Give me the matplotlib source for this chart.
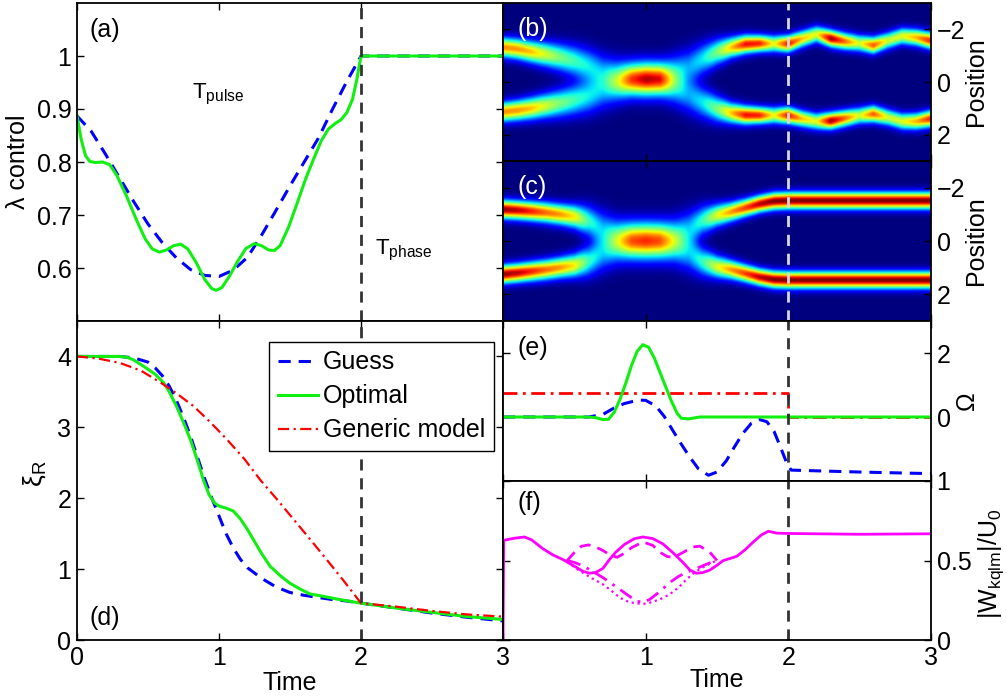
import numpy as np
import matplotlib
matplotlib.use('Agg')
import matplotlib.pyplot as plt

plt.rcParams['font.family'] = ['Liberation Sans', 'DejaVu Sans']
plt.rcParams['mathtext.fontset'] = 'custom'
plt.rcParams['mathtext.rm'] = 'Liberation Sans'
plt.rcParams['mathtext.it'] = 'Liberation Sans:italic'
plt.rcParams['mathtext.default'] = 'regular'
plt.rcParams['font.size'] = 18
FS = 18

# ---------------- panel (a): lambda control ----------------
a_opt_t = [0.00, 0.03, 0.06, 0.09, 0.13, 0.18, 0.23, 0.28, 0.35, 0.42, 0.48, 0.53, 0.58,
           0.63, 0.68, 0.73, 0.78, 0.84, 0.90, 0.95, 0.98, 1.02, 1.07, 1.13, 1.19, 1.25,
           1.30, 1.35, 1.39, 1.43, 1.49, 1.55, 1.61, 1.67, 1.72, 1.77, 1.82, 1.86, 1.90,
           1.94, 1.97, 2.00, 3.00]
a_opt_v = [0.887, 0.842, 0.812, 0.801, 0.799, 0.800, 0.795, 0.775, 0.735, 0.690, 0.655,
           0.636, 0.630, 0.634, 0.642, 0.645, 0.636, 0.610, 0.578, 0.561, 0.558, 0.563,
           0.583, 0.612, 0.637, 0.646, 0.642, 0.634, 0.633, 0.642, 0.677, 0.722, 0.768,
           0.808, 0.840, 0.862, 0.873, 0.880, 0.893, 0.918, 0.955, 1.000, 1.000]
a_guess_t = [0.0, 0.1, 0.2, 0.3, 0.4, 0.5, 0.6, 0.7, 0.8, 0.9, 1.0, 1.1, 1.2, 1.3, 1.4,
             1.5, 1.6, 1.7, 1.8, 1.9, 2.0, 3.0]
a_guess_v = [0.887, 0.858, 0.815, 0.770, 0.725, 0.683, 0.648, 0.619, 0.597, 0.586, 0.584,
             0.596, 0.620, 0.662, 0.708, 0.755, 0.800, 0.845, 0.900, 0.952, 1.000, 1.000]

# ---------------- panel (d): xi_R ----------------
d_guess_t = [0.0, 0.3, 0.4, 0.5, 0.55, 0.6, 0.65, 0.7, 0.75, 0.8, 0.85, 0.9, 0.95, 1.0,
             1.05, 1.1, 1.15, 1.2, 1.3, 1.4, 1.5, 1.6, 1.7, 1.8, 1.9, 2.0, 2.25, 2.5, 2.75, 3.0]
d_guess_v = [4.0, 4.0, 3.98, 3.92, 3.84, 3.73, 3.58, 3.38, 3.14, 2.87, 2.57, 2.27, 2.00,
             1.75, 1.50, 1.30, 1.14, 1.02, 0.87, 0.75, 0.67, 0.63, 0.60, 0.57, 0.55, 0.52,
             0.45, 0.38, 0.32, 0.27]
d_opt_t = [0.0, 0.3, 0.35, 0.4, 0.47, 0.55, 0.61, 0.65, 0.70, 0.75, 0.80, 0.85, 0.89,
           0.93, 0.97, 1.00, 1.05, 1.10, 1.15, 1.20, 1.25, 1.30, 1.36, 1.43, 1.50, 1.57,
           1.64, 1.75, 1.85, 2.00, 2.25, 2.5, 2.75, 3.0]
d_opt_v = [4.0, 4.0, 3.99, 3.95, 3.86, 3.75, 3.63, 3.50, 3.30, 3.07, 2.82, 2.52, 2.26,
           2.05, 1.93, 1.89, 1.86, 1.82, 1.71, 1.56, 1.39, 1.22, 1.04, 0.91, 0.80, 0.72,
           0.65, 0.61, 0.57, 0.52, 0.45, 0.39, 0.33, 0.29]
d_gen_t = [0.0, 0.15, 0.3, 0.45, 0.59, 0.7, 0.82, 0.94, 1.06, 1.18, 1.29, 1.41, 1.53,
           1.65, 1.76, 1.88, 2.0, 2.25, 2.5, 2.75, 3.0]
d_gen_v = [4.0, 3.97, 3.91, 3.80, 3.63, 3.48, 3.30, 3.07, 2.82, 2.55, 2.26, 1.98, 1.69,
           1.40, 1.13, 0.83, 0.52, 0.47, 0.41, 0.36, 0.33]

# ---------------- panel (e): Omega ----------------
e_opt_t = [0.0, 0.6, 0.65, 0.7, 0.74, 0.78, 0.82, 0.86, 0.90, 0.94, 0.98, 1.02, 1.06,
           1.10, 1.14, 1.18, 1.22, 1.25, 1.30, 1.38, 2.0, 3.0]
e_opt_v = [0.0, 0.0, -0.02, -0.08, -0.07, 0.15, 0.55, 1.05, 1.6, 2.05, 2.26, 2.18, 1.85,
           1.40, 0.95, 0.5, 0.12, -0.04, -0.06, 0.0, 0.0, 0.0]
e_guess_t = [0.0, 0.6, 0.7, 0.77, 0.85, 0.95, 1.0, 1.07, 1.13, 1.19, 1.25, 1.31, 1.37,
             1.44, 1.5, 1.565, 1.62, 1.68, 1.74, 1.80, 1.85, 1.90, 1.95, 1.99, 2.02, 2.5, 3.0]
e_guess_v = [0.0, 0.0, 0.08, 0.26, 0.42, 0.53, 0.52, 0.35, 0.02, -0.42, -0.85, -1.26,
             -1.62, -1.82, -1.72, -1.37, -0.95, -0.52, -0.2, -0.08, -0.15, -0.45, -1.0,
             -1.45, -1.66, -1.72, -1.77]
e_gen_t = [0.0, 2.0, 2.0, 3.0]
e_gen_v = [0.74, 0.74, 0.0, 0.0]

# ---------------- panel (f): |W_kqlm|/U0 ----------------
f_solid_t = [0.0, 0.005, 0.08, 0.15, 0.2, 0.28, 0.35, 0.42, 0.47, 0.514, 0.56, 0.607,
             0.65, 0.7, 0.75, 0.79, 0.85, 0.92, 0.98, 1.05, 1.12, 1.19, 1.26, 1.31, 1.355,
             1.4, 1.45, 1.5, 1.544, 1.6, 1.64, 1.7, 1.754, 1.81, 1.86, 1.92, 2.0, 2.5, 3.0]
f_solid_v = [0.0, 0.627, 0.64, 0.648, 0.63, 0.574, 0.535, 0.506, 0.48, 0.457, 0.432,
             0.42, 0.425, 0.45, 0.51, 0.552, 0.6, 0.637, 0.648, 0.638, 0.605, 0.55, 0.489,
             0.44, 0.42, 0.424, 0.44, 0.47, 0.50, 0.515, 0.527, 0.57, 0.616, 0.66, 0.684,
             0.672, 0.67, 0.665, 0.668]
f_dash_t = [0.45, 0.50, 0.55, 0.6, 0.65, 0.70, 0.75, 0.80, 0.85, 0.9, 0.98, 1.05, 1.1,
            1.15, 1.2, 1.26, 1.33, 1.38, 1.45, 1.5]
f_dash_v = [0.50, 0.55, 0.59, 0.598, 0.585, 0.563, 0.535, 0.52, 0.545, 0.58, 0.617,
            0.595, 0.552, 0.525, 0.52, 0.55, 0.585, 0.59, 0.552, 0.50]
f_dashdot_t = [0.45, 0.5, 0.56, 0.63, 0.70, 0.76, 0.818, 0.87, 0.934, 0.98, 1.028, 1.1,
               1.168, 1.23, 1.285, 1.35, 1.40, 1.45, 1.5]
f_dashdot_v = [0.50, 0.488, 0.467, 0.43, 0.393, 0.355, 0.319, 0.285, 0.245, 0.237, 0.255,
               0.305, 0.361, 0.40, 0.425, 0.447, 0.467, 0.485, 0.50]
f_dot_t = [0.45, 0.537, 0.62, 0.70, 0.76, 0.818, 0.88, 0.934, 1.0, 1.05, 1.11, 1.168,
           1.23, 1.285, 1.33, 1.38, 1.45, 1.5]
f_dot_v = [0.49, 0.435, 0.39, 0.35, 0.31, 0.266, 0.24, 0.23, 0.228, 0.24, 0.26, 0.287,
           0.33, 0.38, 0.415, 0.447, 0.48, 0.50]

# ---------------- panels (b),(c): density tracks (t = 0, 0.1, ..., 3.0) ----------------
track_t = [0.0, 0.1, 0.2, 0.3, 0.4, 0.5, 0.6, 0.7, 0.8, 0.9, 1.0, 1.1, 1.2, 1.3, 1.4, 1.5,
           1.6, 1.7, 1.8, 1.9, 2.0, 2.1, 2.2, 2.3, 2.4, 2.5, 2.6, 2.7, 2.8, 2.9, 3.0]
b_upper = [-1.32, -1.26, -1.15, -1.05, -0.94, -0.80, -0.62, -0.40, -0.20, -0.12, -0.12,
           -0.14, -0.35, -0.58, -0.88, -1.14, -1.32, -1.44, -1.47, -1.46, -1.46, -1.65,
           -1.82, -1.66, -1.55, -1.48, -1.40, -1.58, -1.75, -1.70, -1.58]
b_lower = [1.14, 1.08, 1.00, 0.90, 0.80, 0.68, 0.54, 0.35, 0.12, -0.08, -0.10, -0.08,
           0.18, 0.50, 0.78, 1.02, 1.18, 1.26, 1.27, 1.27, 1.27, 1.40, 1.50, 1.48, 1.38,
           1.28, 1.22, 1.35, 1.50, 1.50, 1.40]
b_amp = [0.76, 0.75, 0.70, 0.60, 0.50, 0.43, 0.36, 0.28, 0.32, 0.43, 0.48, 0.46, 0.33,
         0.28, 0.36, 0.5, 0.7, 0.9, 0.88, 0.62, 0.9, 0.7, 0.62, 0.98, 0.8, 0.6, 0.82, 0.6,
         0.62, 0.72, 0.88]
b_width = [0.25, 0.26, 0.28, 0.31, 0.35, 0.39, 0.43, 0.45, 0.45, 0.42, 0.42, 0.42, 0.45,
           0.45, 0.40, 0.33, 0.26, 0.23, 0.21, 0.21, 0.21, 0.21, 0.21, 0.21, 0.21, 0.21,
           0.21, 0.21, 0.21, 0.21, 0.21]
c_upper = [-1.19, -1.16, -1.12, -1.07, -1.00, -0.92, -0.75, -0.45, -0.20, -0.08, -0.07,
           -0.08, -0.20, -0.45, -0.78, -0.97, -1.10, -1.25, -1.40, -1.50, -1.52, -1.52,
           -1.52, -1.52, -1.52, -1.52, -1.52, -1.52, -1.52, -1.52, -1.52]
c_lower = [1.25, 1.20, 1.14, 1.08, 1.00, 0.92, 0.75, 0.45, 0.20, 0.06, 0.05, 0.06, 0.20,
           0.45, 0.78, 0.97, 1.08, 1.22, 1.36, 1.45, 1.47, 1.47, 1.47, 1.47, 1.47, 1.47,
           1.47, 1.47, 1.47, 1.47, 1.47]
c_amp = [0.98, 0.95, 0.88, 0.80, 0.75, 0.66, 0.42, 0.30, 0.34, 0.42, 0.44, 0.42, 0.34,
         0.30, 0.42, 0.62, 0.75, 0.85, 0.95, 1.0, 1.0, 1.0, 1.0, 1.0, 1.0, 1.0, 1.0, 1.0,
         1.0, 1.0, 1.0]
c_width = [0.23, 0.23, 0.24, 0.25, 0.26, 0.29, 0.38, 0.45, 0.45, 0.45, 0.45, 0.45, 0.45,
           0.45, 0.36, 0.28, 0.24, 0.22, 0.21, 0.21, 0.21, 0.21, 0.21, 0.21, 0.21, 0.21,
           0.21, 0.21, 0.21, 0.21, 0.21]

GREEN = '#11ee11'
BLUE = '#0000ff'
RED = '#ff0000'
MAG = '#ff00ff'
VDARK = '#333333'

W, H = 1007, 700
fig = plt.figure(figsize=(W / 100, H / 100), dpi=100)


def rect(x0, y0, x1, y1):
    return [x0 / W, 1 - y1 / H, (x1 - x0) / W, (y1 - y0) / H]


XL, XM, XR = 77, 503, 931
ax_a = fig.add_axes(rect(XL, 3, XM, 321))
ax_d = fig.add_axes(rect(XL, 321, XM, 640))
ax_b = fig.add_axes(rect(XM, 3, XR, 161))
ax_c = fig.add_axes(rect(XM, 161, XR, 321))
ax_e = fig.add_axes(rect(XM, 321, XR, 481))
ax_f = fig.add_axes(rect(XM, 481, XR, 640))

for ax in (ax_a, ax_d, ax_b, ax_c, ax_e, ax_f):
    ax.set_xlim(0, 3)
    ax.tick_params(direction='in', length=5, width=1, top=True, right=True,
                   labelsize=FS, pad=4)
    for s in ax.spines.values():
        s.set_linewidth(1.3)
    ax.set_xticks([0, 1, 2, 3])

# ----- (a) -----
ax_a.plot(a_guess_t, a_guess_v, '--', color=BLUE, lw=2.2, dashes=(4, 2.6))
ax_a.plot(a_opt_t, a_opt_v, '-', color=GREEN, lw=2.2)
ax_a.axvline(2, color=VDARK, lw=2, ls=(0, (4, 2.8)))
ax_a.set_ylim(0.5, 1.1)
ax_a.set_yticks([0.6, 0.7, 0.8, 0.9, 1.0])
ax_a.set_yticklabels(['0.6', '0.7', '0.8', '0.9', '1'])
ax_a.set_xticklabels([])
ax_a.set_ylabel('λ control', fontsize=FS)
ax_a.yaxis.set_label_coords(-0.138, 0.5)
ax_a.text(0.03, 0.915, '(a)', transform=ax_a.transAxes, fontsize=FS, va='center')
ax_a.text(0.81, 0.928, r'T$_{\mathregular{pulse}}$', fontsize=16, ha='left', va='center')
ax_a.text(2.1, 0.633, r'T$_{\mathregular{phase}}$', fontsize=16, ha='left', va='center')

# ----- (d) -----
ax_d.plot(d_guess_t, d_guess_v, '--', color=BLUE, lw=2.2, dashes=(4, 2.6), label='Guess')
ax_d.plot(d_opt_t, d_opt_v, '-', color=GREEN, lw=2.2, label='Optimal')
ax_d.plot(d_gen_t, d_gen_v, '-.', color=RED, lw=1.6, dashes=(5, 2, 1, 2),
          label='Generic model')
ax_d.axvline(2, color=VDARK, lw=2, ls=(0, (4, 2.8)))
ax_d.set_ylim(0, 4.5)
ax_d.set_yticks([0, 1, 2, 3, 4])
ax_d.set_xticklabels(['0', '1', '2', '3'])
ax_d.set_xlabel('Time', fontsize=FS)
ax_d.xaxis.set_label_coords(0.5, -0.135)
ax_d.set_ylabel(r'$\xi_R$', fontsize=FS + 1)
ax_d.yaxis.set_label_coords(-0.10, 0.52)
ax_d.text(0.03, 0.069, '(d)', transform=ax_d.transAxes, fontsize=FS, va='center')
leg = ax_d.legend(loc='upper right', bbox_to_anchor=(0.978, 0.935), fontsize=FS,
                  handlelength=1.6, handletextpad=0.2, borderpad=0.35,
                  labelspacing=0.4, fancybox=False, framealpha=1, borderaxespad=0)
leg.get_frame().set_edgecolor('black')
leg.get_frame().set_linewidth(1.0)

# ----- (b),(c) heatmaps -----
tg = np.linspace(0, 3, 430)
pg = np.linspace(-3, 3, 240)
T, P = np.meshgrid(tg, pg)


def density(cu, cl, amp, wid):
    cu_i = np.interp(T, track_t, cu)
    cl_i = np.interp(T, track_t, cl)
    a_i = np.interp(T, track_t, amp)
    w_i = np.interp(T, track_t, wid)
    return (a_i * np.exp(-(P - cu_i) ** 2 / (2 * w_i ** 2))
            + a_i * np.exp(-(P - cl_i) ** 2 / (2 * w_i ** 2)))


for ax, cu, cl, amp, wid, lab in ((ax_b, b_upper, b_lower, b_amp, b_width, '(b)'),
                                  (ax_c, c_upper, c_lower, c_amp, c_width, '(c)')):
    field = np.clip(density(cu, cl, amp, wid), 0, 1)
    ax.imshow(field, extent=(0, 3, 3, -3), origin='upper', aspect='auto', cmap='jet',
              vmin=0, vmax=1, interpolation='bilinear')
    ax.set_ylim(3, -3)
    ax.axvline(2, color='#d8d8d8', lw=2, ls=(0, (4, 2.8)))
    ax.set_yticks([-2, 0, 2])
    ax.yaxis.tick_right()
    ax.tick_params(left=True, right=True, labelleft=False, labelright=True,
                   direction='in', length=5, top=True)
    ax.set_xticklabels([])
    ax.set_ylabel('Position', fontsize=FS, rotation=90)
    ax.yaxis.set_label_position('right')
    ax.yaxis.set_label_coords(1.105, 0.5)
    ax.text(0.033, 0.835, lab, transform=ax.transAxes, fontsize=FS, va='center',
            color='white')

# ----- (e) -----
ax_e.plot(e_gen_t, e_gen_v, '-.', color=RED, lw=2.0, dashes=(5, 2, 1, 2))
ax_e.plot(e_guess_t, e_guess_v, '--', color=BLUE, lw=2.2, dashes=(4, 2.6))
ax_e.plot(e_opt_t, e_opt_v, '-', color=GREEN, lw=2.2)
ax_e.axvline(2, color=VDARK, lw=2, ls=(0, (4, 2.8)))
ax_e.set_ylim(-2, 3)
ax_e.set_yticks([0, 2])
ax_e.yaxis.tick_right()
ax_e.tick_params(left=True, right=True, labelleft=False, labelright=True,
                 direction='in', length=5, top=True)
ax_e.set_xticklabels([])
ax_e.set_ylabel('Ω', fontsize=FS, rotation=90)
ax_e.yaxis.set_label_position('right')
ax_e.yaxis.set_label_coords(1.085, 0.5)
ax_e.text(0.035, 0.83, '(e)', transform=ax_e.transAxes, fontsize=FS, va='center')

# ----- (f) -----
ax_f.plot(f_dot_t, f_dot_v, ':', color=MAG, lw=1.6)
ax_f.plot(f_dashdot_t, f_dashdot_v, '-.', color=MAG, lw=2.0, dashes=(5, 2.5, 1, 2.5))
ax_f.plot(f_dash_t, f_dash_v, '--', color=MAG, lw=2.0, dashes=(4, 2.6))
ax_f.plot(f_solid_t, f_solid_v, '-', color=MAG, lw=2.0)
ax_f.axvline(2, color=VDARK, lw=2, ls=(0, (4, 2.8)))
ax_f.set_ylim(0, 1)
ax_f.set_yticks([0, 0.5, 1])
ax_f.set_yticklabels(['0', '0.5', '1'])
ax_f.yaxis.tick_right()
ax_f.tick_params(left=True, right=True, labelleft=False, labelright=True,
                 direction='in', length=5, top=True)
ax_f.set_xticklabels(['', '1', '2', '3'])
ax_f.set_xlabel('Time', fontsize=FS)
ax_f.xaxis.set_label_coords(0.5, -0.25)
ax_f.set_ylabel(r'|W$_{\mathregular{kqlm}}$|/U$_{\mathregular{0}}$', fontsize=FS, rotation=90)
ax_f.yaxis.set_label_position('right')
ax_f.yaxis.set_label_coords(1.14, 0.48)
ax_f.text(0.035, 0.86, '(f)', transform=ax_f.transAxes, fontsize=FS, va='center')

for ax in (ax_b, ax_c, ax_e, ax_f):
    ax.yaxis.label.set_va('center')
    ax.yaxis.label.set_ha('center')
    ax.yaxis.label.set_rotation_mode('anchor')
for ax in (ax_a, ax_d):
    ax.yaxis.label.set_va('center')
    ax.yaxis.label.set_ha('center')
for ax in (ax_d, ax_f):
    ax.xaxis.label.set_va('center')

fig.savefig('out.png', dpi=100)
